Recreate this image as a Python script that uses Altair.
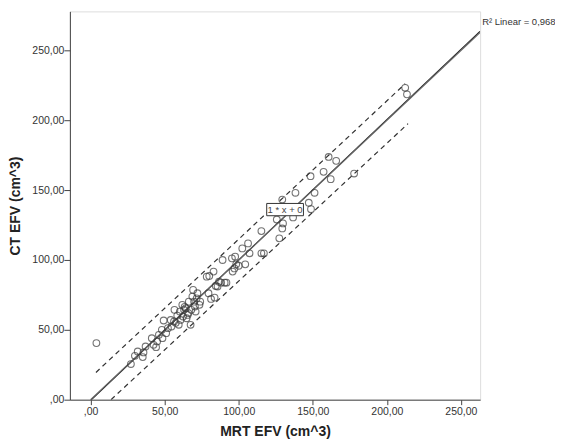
import altair as alt
import pandas as pd

# Scatter data (MRT EFV, CT EFV)
mrt = [3.9, 27.2, 29.9, 31.8, 35.2, 35.7, 37.1, 41.3, 42.5, 44.2, 44.9, 46.1, 48.1, 48.5,
       51.0, 49.3, 54.1, 54.6, 56.3, 56.6, 58.5, 59.5, 60.2, 61.9, 62.4, 63.1, 64.3, 64.8,
       65.5, 66.3, 67.5, 68.7, 69.2, 69.9, 70.9, 71.6, 72.1, 73.5, 78.4, 80.1, 79.6, 81.3,
       83.0, 83.7, 84.5, 85.7, 86.7, 88.1, 89.1, 90.5, 91.7, 95.4, 95.9, 97.1, 97.6, 98.3,
       100.0, 102.4, 104.4, 106.3, 107.3, 115.3, 115.3, 117.0, 125.7, 127.4, 129.4, 129.4,
       129.9, 136.7, 138.3, 147.3, 148.5, 148.8, 151.2, 157.3, 160.7, 162.1, 165.8, 177.9,
       212.4, 213.6, 52.2, 60.7, 68.0, 74.0, 70.4, 57.5, 66.0, 63.5]
ct = [40.5, 25.5, 31.4, 34.5, 30.5, 33.8, 38.1, 44.0, 39.3, 37.6, 41.7, 46.4, 50.0, 44.0,
      47.6, 56.7, 57.1, 52.4, 56.0, 64.3, 60.2, 53.6, 63.1, 67.9, 59.5, 64.3, 65.5, 58.3,
      60.7, 70.2, 53.6, 73.8, 78.6, 70.2, 63.1, 72.6, 76.2, 67.9, 88.1, 88.6, 76.2, 72.1,
      91.7, 73.1, 81.4, 81.0, 84.5, 83.8, 100.0, 83.8, 83.8, 101.2, 91.7, 94.0, 102.4, 96.9,
      95.9, 108.3, 96.9, 111.9, 104.8, 120.7, 104.8, 104.8, 129.0, 115.5, 143.3, 122.6,
      126.2, 130.5, 148.1, 141.0, 160.0, 136.4, 148.1, 163.1, 173.8, 157.9, 171.0, 161.9,
      223.3, 218.6, 51.2, 57.1, 64.3, 70.2, 66.7, 55.0, 62.0, 66.5]

# Fit line (solid) and reference line 1*x+0
line_name = ["fit", "fit", "ref", "ref"]
line_x = [0.0, 262.9, 0.0, 262.9]
line_y = [-0.5, 263.7, 0.0, 262.9]

# Prediction interval lines (dashed)
pi_name = ["upper", "upper", "lower", "lower"]
pi_x = [3.6, 212.4, 13.8, 214.3]
pi_y = [19.5, 226.2, 0.0, 197.6]

# Label box "1 * x + 0"
box_x1, box_x2, box_y1, box_y2 = [118.9], [143.7], [131.7], [140.5]
box_label = ["1 * x + 0"]

pts = pd.DataFrame({"x": mrt, "y": ct})
lines = pd.DataFrame({"name": line_name, "x": line_x, "y": line_y})
pis = pd.DataFrame({"name": pi_name, "x": pi_x, "y": pi_y})
box = pd.DataFrame({"x": box_x1, "x2": box_x2, "y": box_y1, "y2": box_y2,
                    "xc": [(box_x1[0] + box_x2[0]) / 2], "yc": [(box_y1[0] + box_y2[0]) / 2],
                    "label": box_label})

lab_expr = "datum.value == 0 ? ',00' : replace(format(datum.value, '.2f'), '.', ',')"
font = "Liberation Sans"

xscale = alt.Scale(domain=[-14, 263], nice=False, zero=False)
yscale = alt.Scale(domain=[0, 278], nice=False, zero=False)

xaxis = alt.Axis(title="MRT EFV (cm^3)", values=[0, 50, 100, 150, 200, 250], labelExpr=lab_expr,
                 grid=False, tickSize=5, tickColor="#444", domainColor="#444",
                 labelFont=font, labelFontSize=10.5, labelColor="#333", labelPadding=2,
                 titleFont=font, titleFontSize=14, titleFontWeight="bold", titleColor="#222",
                 titlePadding=7)
yaxis = alt.Axis(title="CT EFV (cm^3)", values=[0, 50, 100, 150, 200, 250], labelExpr=lab_expr,
                 grid=False, tickSize=6, tickColor="#444", domainColor="#444",
                 labelFont=font, labelFontSize=10.5, labelColor="#333", labelPadding=0,
                 titleFont=font, titleFontSize=14, titleFontWeight="bold", titleColor="#222",
                 titlePadding=9)

points = alt.Chart(pts).mark_point(shape="circle", filled=False, size=45, color="#3a3a3a",
                                   strokeWidth=1.1).encode(
    x=alt.X("x:Q", scale=xscale, axis=xaxis),
    y=alt.Y("y:Q", scale=yscale, axis=yaxis),
)

fit = alt.Chart(lines).mark_line(clip=True, strokeWidth=1.2).encode(
    x=alt.X("x:Q", scale=xscale),
    y=alt.Y("y:Q", scale=yscale),
    detail="name:N",
    color=alt.Color("name:N", scale=alt.Scale(domain=["fit", "ref"], range=["#1a1a1a", "#666"]),
                    legend=None),
)

dashed = alt.Chart(pis).mark_line(clip=True, strokeWidth=1.2, strokeDash=[5, 4],
                                  color="#333").encode(
    x=alt.X("x:Q", scale=xscale),
    y=alt.Y("y:Q", scale=yscale),
    detail="name:N",
)

rect = alt.Chart(box).mark_rect(fill="white", stroke="#333", strokeWidth=1).encode(
    x=alt.X("x:Q", scale=xscale), x2="x2:Q",
    y=alt.Y("y:Q", scale=yscale), y2="y2:Q",
)

rect_text = alt.Chart(box).mark_text(font=font, fontSize=9.5, color="#444").encode(
    x=alt.X("xc:Q", scale=xscale),
    y=alt.Y("yc:Q", scale=yscale),
    text="label:N",
)

r2 = alt.Chart(pd.DataFrame({"t": ["R² Linear = 0,968"]})).mark_text(
    font=font, fontSize=9.5, color="#333", align="left", baseline="middle").encode(
    x=alt.value(413), y=alt.value(11), text="t:N")

chart = alt.layer(fit, dashed, points, rect, rect_text, r2).properties(
    width=411, height=389,
    autosize=alt.AutoSizeParams(type="none"),
    padding={"left": 62, "top": 3, "right": 75, "bottom": 40},
).configure_view(stroke="#444", strokeWidth=1).configure(background="white")

chart.save("out.html", embed_options={"renderer": "svg", "actions": False})
